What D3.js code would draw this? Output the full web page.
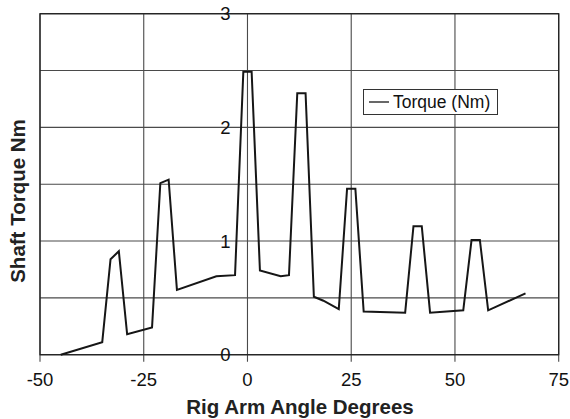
<!DOCTYPE html>
<html>
<head>
<meta charset="utf-8">
<script src="https://cdn.jsdelivr.net/npm/d3@7"></script>
<style>
  html, body { margin: 0; padding: 0; background: #fff; }
  svg { display: block; font-family: "Liberation Sans", Arial, sans-serif; }
</style>
</head>
<body>
<svg id="chart" width="570" height="419"></svg>
<script>
// Rig arm angle (degrees) and measured shaft torque (Nm)
const angles = [-45, -35, -33, -31, -29, -23, -21, -19, -17, -7.5, -3, -1, 1, 3, 8, 10, 12, 14, 16, 18.3, 22, 24, 26, 28, 38, 40, 42, 44, 52, 54, 56, 58, 67];
const torque = [0.0, 0.11, 0.84, 0.91, 0.18, 0.24, 1.51, 1.54, 0.57, 0.69, 0.70, 2.49, 2.49, 0.74, 0.69, 0.70, 2.30, 2.30, 0.51, 0.475, 0.40, 1.46, 1.46, 0.38, 0.37, 1.13, 1.13, 0.37, 0.39, 1.01, 1.01, 0.39, 0.54];

const xTicks = [-50, -25, 0, 25, 50, 75];
const yGrid = [0, 0.5, 1, 1.5, 2, 2.5, 3];
const yTickLabels = [0, 1, 2, 3];
const seriesName = "Torque (Nm)";
const xTitle = "Rig Arm Angle Degrees";
const yTitle = "Shaft Torque Nm";

const svg = d3.select("#chart");
const plotLeft = 40, plotRight = 558.7, plotTop = 13.7, plotBottom = 354.7;

const x = d3.scaleLinear().domain([-50, 75]).range([plotLeft, plotRight]);
const y = d3.scaleLinear().domain([0, 3]).range([plotBottom, plotTop]);

// grid
const grid = svg.append("g").attr("stroke", "#4a4a4a").attr("stroke-width", 1.1);
grid.selectAll("line.h").data(yGrid).join("line")
  .attr("x1", plotLeft).attr("x2", plotRight)
  .attr("y1", d => y(d)).attr("y2", d => y(d));
grid.selectAll("line.v").data(xTicks).join("line")
  .attr("y1", plotTop).attr("y2", plotBottom + 7)
  .attr("x1", d => x(d)).attr("x2", d => x(d));

// plot frame
svg.append("rect")
  .attr("x", plotLeft).attr("y", plotTop)
  .attr("width", plotRight - plotLeft).attr("height", plotBottom - plotTop)
  .attr("fill", "none").attr("stroke", "#222").attr("stroke-width", 1.3);

// x tick labels
svg.append("g").selectAll("text").data(xTicks).join("text")
  .attr("x", d => x(d)).attr("y", 380)
  .attr("dy", "0.35em")
  .attr("text-anchor", "middle")
  .attr("font-size", 18.5)
  .attr("fill", "#111")
  .text(d => d);

// y tick labels sit beside the zero-degree line
svg.append("g").selectAll("text").data(yTickLabels).join("text")
  .attr("x", x(0) - 17).attr("y", d => y(d))
  .attr("dy", "0.35em")
  .attr("text-anchor", "end")
  .attr("font-size", 18.5)
  .attr("fill", "#111")
  .text(d => d);

// torque trace
const line = d3.line()
  .x((d, i) => x(angles[i]))
  .y(d => y(d));
svg.append("path")
  .datum(torque)
  .attr("d", line)
  .attr("fill", "none")
  .attr("stroke", "#161616")
  .attr("stroke-width", 2)
  .attr("stroke-linejoin", "miter");

// legend
const lg = svg.append("g");
lg.append("rect")
  .attr("x", 363.5).attr("y", 89.5).attr("width", 134).attr("height", 25)
  .attr("fill", "#fff").attr("stroke", "#333").attr("stroke-width", 1);
lg.append("line")
  .attr("x1", 369).attr("x2", 389).attr("y1", 102).attr("y2", 102)
  .attr("stroke", "#161616").attr("stroke-width", 1.3);
lg.append("text")
  .attr("x", 393).attr("y", 102).attr("dy", "0.35em")
  .attr("font-size", 17.5).attr("fill", "#111")
  .text(seriesName);

// axis titles
svg.append("text")
  .attr("x", 300).attr("y", 407).attr("dy", "0.35em")
  .attr("text-anchor", "middle")
  .attr("font-size", 20.5).attr("font-weight", "bold").attr("fill", "#222")
  .text(xTitle);
svg.append("text")
  .attr("transform", "translate(18,201) rotate(-90)")
  .attr("dy", "0.35em")
  .attr("text-anchor", "middle")
  .attr("font-size", 20.5).attr("font-weight", "bold").attr("fill", "#222")
  .text(yTitle);
</script>
</body>
</html>
